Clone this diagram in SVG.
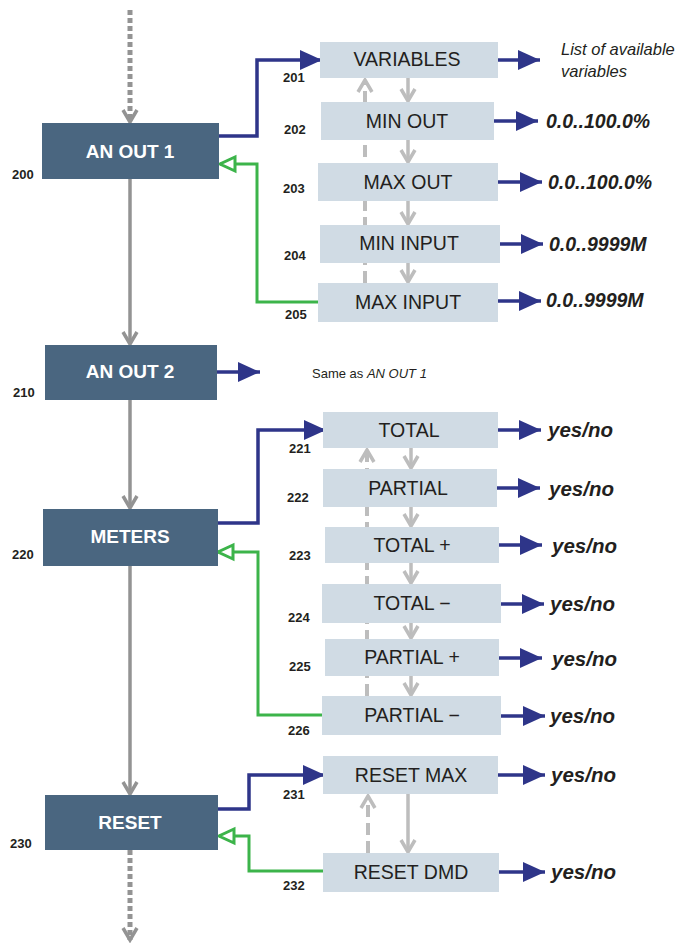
<svg xmlns="http://www.w3.org/2000/svg" width="679" height="943" viewBox="0 0 679 943">
<style>
.main rect{fill:#4a6680;}
.main text{fill:#fff;font-family:"Liberation Sans",Arial,sans-serif;font-weight:bold;font-size:19px;text-anchor:middle;}
.sub rect{fill:#d0dbe4;}
.sub text{fill:#231f20;font-family:"Liberation Sans",Arial,sans-serif;font-size:19.5px;text-anchor:middle;}
.num{fill:#231f20;font-family:"Liberation Sans",Arial,sans-serif;font-weight:bold;font-size:13px;}
.val{fill:#231f20;font-family:"Liberation Sans",Arial,sans-serif;font-weight:bold;font-style:italic;font-size:19.5px;}
.yn{font-size:20.5px;}
.note{fill:#231f20;font-family:"Liberation Sans",Arial,sans-serif;font-style:italic;font-size:16.5px;}
.blue{stroke:#2e3589;stroke-width:3.5;fill:none;marker-end:url(#mb);}
.green{stroke:#3cb44a;stroke-width:3;fill:none;marker-end:url(#mg);}
.flow{stroke:#939393;stroke-width:3.5;fill:none;marker-end:url(#mc);}
.dot{stroke:#939393;stroke-width:5;stroke-dasharray:5 3;fill:none;marker-end:url(#mc);}
.down{stroke:#bdbdbd;stroke-width:3.5;fill:none;marker-end:url(#ml);}
.up{stroke:#bdbdbd;stroke-width:4;stroke-dasharray:12 6;fill:none;marker-end:url(#ml);}
</style>
<defs>
<marker id="mb" markerUnits="userSpaceOnUse" markerWidth="24" markerHeight="22" refX="22" refY="10" orient="auto" overflow="visible"><path d="M0,0 L22,10 L0,20 Z" fill="#2e3589"/></marker>
<marker id="mg" markerUnits="userSpaceOnUse" markerWidth="20" markerHeight="18" refX="15" refY="7" orient="auto" overflow="visible"><path d="M0,0 L15,7 L0,14 Z" fill="#fff" stroke="#3cb44a" stroke-width="3"/></marker>
<marker id="mc" markerUnits="userSpaceOnUse" markerWidth="16" markerHeight="18" refX="14" refY="7" orient="auto" overflow="visible"><path d="M2,0 L14,7 L2,14" fill="none" stroke="#939393" stroke-width="3.5"/></marker>
<marker id="ml" markerUnits="userSpaceOnUse" markerWidth="16" markerHeight="18" refX="14" refY="7" orient="auto" overflow="visible"><path d="M2,0 L14,7 L2,14" fill="none" stroke="#bdbdbd" stroke-width="3.5"/></marker>
</defs>

<g id="connectors">
<path class="dot" d="M130,10 V122"/>
<path class="flow" d="M130,179 V344"/>
<path class="flow" d="M130,400 V508"/>
<path class="flow" d="M130,566 V794"/>
<path class="dot" d="M130,850 V940"/>

<path class="blue" d="M219,136 H257 V60 H322"/>
<path class="green" d="M320,302 H257 V164 H220"/>
<path class="down" d="M408,78 V101"/>
<path class="down" d="M408,140 V162"/>
<path class="down" d="M408,201 V224"/>
<path class="down" d="M408,263 V282"/>
<path class="up" d="M365,283 V80"/>
<path class="blue" d="M498,60 H540"/>
<path class="blue" d="M494,121 H538"/>
<path class="blue" d="M498,182 H542"/>
<path class="blue" d="M500,244 H543"/>
<path class="blue" d="M498,301 H541"/>

<path class="blue" d="M217,372 H260"/>

<path class="blue" d="M217,523 H258 V430 H326"/>
<path class="green" d="M322,715 H258 V552 H218"/>
<path class="down" d="M411,448 V468"/>
<path class="down" d="M411,507 V526"/>
<path class="down" d="M411,563 V583"/>
<path class="down" d="M411,623 V638"/>
<path class="down" d="M411,676 V695"/>
<path class="up" d="M367,696 V450"/>
<path class="blue" d="M498,430 H541"/>
<path class="blue" d="M497,488 H540"/>
<path class="blue" d="M499,545 H542"/>
<path class="blue" d="M501,604 H544"/>
<path class="blue" d="M499,658 H542"/>
<path class="blue" d="M501,716 H545"/>

<path class="blue" d="M218,809 H249 V775 H325"/>
<path class="green" d="M323,871 H249 V836 H219"/>
<path class="down" d="M408,794 V852"/>
<path class="up" d="M368,853 V796"/>
<path class="blue" d="M498,775 H545"/>
<path class="blue" d="M499,872 H545"/>
</g>

<g id="n200" class="main"><rect x="42" y="123" width="177" height="56"/><text x="130" y="158">AN OUT 1</text></g>
<text class="num" x="12" y="179">200</text>
<g id="n201" class="sub"><rect x="320" y="42" width="178" height="36"/><text x="407" y="66">VARIABLES</text></g>
<text class="num" x="283" y="82">201</text>
<g id="n202" class="sub"><rect x="321" y="102" width="173" height="38"/><text x="407" y="128">MIN OUT</text></g>
<text class="num" x="284" y="134">202</text>
<g id="n203" class="sub"><rect x="318" y="163" width="180" height="38"/><text x="408" y="189">MAX OUT</text></g>
<text class="num" x="283" y="193">203</text>
<g id="n204" class="sub"><rect x="320" y="225" width="180" height="38"/><text x="409" y="250">MIN INPUT</text></g>
<text class="num" x="284" y="260">204</text>
<g id="n205" class="sub"><rect x="318" y="283" width="180" height="39"/><text x="408" y="309">MAX INPUT</text></g>
<text class="num" x="285" y="319">205</text>
<text class="note" x="561" y="55">List of available</text>
<text class="note" x="561" y="77">variables</text>
<text class="val" x="546" y="128">0.0..100.0%</text>
<text class="val" x="548" y="189">0.0..100.0%</text>
<text class="val" x="549" y="251">0.0..9999M</text>
<text class="val" x="546" y="307">0.0..9999M</text>

<g id="n210" class="main"><rect x="45" y="345" width="172" height="55"/><text x="130" y="378">AN OUT 2</text></g>
<text class="num" x="13" y="397">210</text>
<text x="312" y="378" style="fill:#231f20;font-family:'Liberation Sans',Arial,sans-serif;font-size:13px;">Same as <tspan font-style="italic">AN OUT 1</tspan></text>

<g id="n220" class="main"><rect x="43" y="509" width="175" height="57"/><text x="130" y="543">METERS</text></g>
<text class="num" x="12" y="559">220</text>
<g id="n221" class="sub"><rect x="323" y="412" width="175" height="36"/><text x="409" y="437">TOTAL</text></g>
<text class="num" x="289" y="453">221</text>
<g id="n222" class="sub"><rect x="323" y="469" width="174" height="38"/><text x="408" y="495">PARTIAL</text></g>
<text class="num" x="287" y="502">222</text>
<g id="n223" class="sub"><rect x="325" y="527" width="174" height="36"/><text x="412" y="552">TOTAL +</text></g>
<text class="num" x="289" y="560">223</text>
<g id="n224" class="sub"><rect x="322" y="584" width="179" height="39"/><text x="412" y="610">TOTAL −</text></g>
<text class="num" x="288" y="622">224</text>
<g id="n225" class="sub"><rect x="325" y="639" width="174" height="37"/><text x="412" y="664">PARTIAL +</text></g>
<text class="num" x="289" y="671">225</text>
<g id="n226" class="sub"><rect x="322" y="696" width="179" height="39"/><text x="412" y="722">PARTIAL −</text></g>
<text class="num" x="288" y="735">226</text>
<text class="val yn" x="548" y="437">yes/no</text>
<text class="val yn" x="549" y="496">yes/no</text>
<text class="val yn" x="552" y="553">yes/no</text>
<text class="val yn" x="550" y="611">yes/no</text>
<text class="val yn" x="552" y="666">yes/no</text>
<text class="val yn" x="550" y="723">yes/no</text>

<g id="n230" class="main"><rect x="45" y="795" width="173" height="55"/><text x="130" y="829">RESET</text></g>
<text class="num" x="10" y="848">230</text>
<g id="n231" class="sub"><rect x="323" y="756" width="175" height="38"/><text x="411" y="782">RESET MAX</text></g>
<text class="num" x="283" y="799">231</text>
<g id="n232" class="sub"><rect x="323" y="853" width="176" height="39"/><text x="411" y="879">RESET DMD</text></g>
<text class="num" x="283" y="890">232</text>
<text class="val yn" x="551" y="782">yes/no</text>
<text class="val yn" x="551" y="879">yes/no</text>
</svg>
